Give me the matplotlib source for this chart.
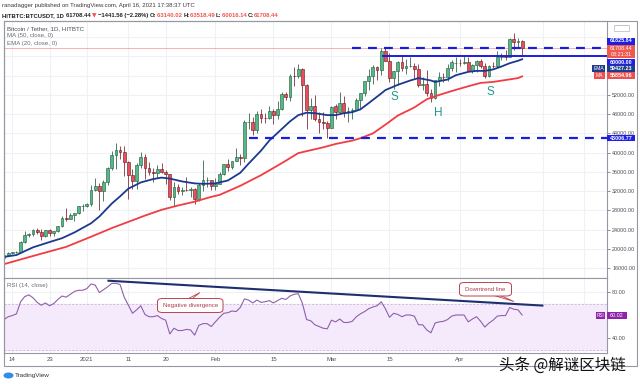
import matplotlib
matplotlib.use("Agg")
import matplotlib.pyplot as plt
import numpy as np
import pandas as pd
from matplotlib.patches import Rectangle, FancyBboxPatch, Polygon, Ellipse

# ---------------- data ----------------
dates = pd.date_range("2020-12-12", "2021-04-16", freq="D")
opens = [18036, 18808, 19175, 19273, 19427, 21380, 22843, 23107, 23822, 23455,
         22719, 23810, 23232, 23729, 24712, 26493, 26281, 27079, 27385, 28875,
         28923, 29331, 32176, 33000, 31989, 33950, 36769, 39432, 40586, 40088,
         38150, 35410, 34049, 37372, 39141, 36733, 35995, 35824, 36622, 35901,
         35468, 30851, 32950, 32078, 32259, 32251, 32464, 30362, 33368, 34246,
         34262, 33092, 33517, 35472, 37620, 36936, 38290, 39181, 38795, 46374,
         46420, 44807, 47969, 47298, 47156, 48580, 47911, 49134, 52119, 51553,
         55906, 55841, 57412, 54088, 48891, 49676, 47056, 46277, 46104, 45134,
         49595, 48436, 50349, 48374, 48746, 48882, 50959, 52375, 54874, 55851,
         57773, 57221, 61188, 58977, 55605, 56900, 58912, 57641, 58030, 58100,
         57351, 54083, 54342, 52303, 51293, 55025, 55817, 55782, 57635, 58730,
         58741, 58720, 58950, 57051, 58202, 59129, 57990, 56000, 58088, 58032,
         59860, 59999, 59860, 63575, 62959, 63140.02]
highs = [18948, 19411, 19350, 19570, 21560, 23800, 23285, 24171, 24295, 24102,
         23837, 24100, 23789, 24789, 26867, 28422, 27500, 27400, 28996, 29300,
         29600, 33300, 34778, 33600, 34360, 36939, 40365, 41950, 41380, 41350,
         38264, 36628, 37850, 40100, 39747, 37950, 36852, 37469, 37850, 36415,
         35600, 33826, 33456, 32944, 34875, 32921, 32557, 33783, 38531, 34933,
         34342, 34717, 35984, 37662, 38708, 38310, 40955, 39700, 46794, 48200,
         47310, 48678, 48985, 48150, 49707, 49010, 50638, 52619, 52530, 56368,
         57767, 58352, 57508, 54183, 51374, 52041, 48424, 48394, 46638, 49790,
         50200, 52640, 51773, 49448, 49200, 51450, 52402, 54895, 57387, 58150,
         58058, 61844, 61683, 60633, 56938, 58978, 60100, 59468, 59880, 58589,
         58430, 55830, 57200, 53230, 55073, 56700, 56559, 58400, 59368, 59800,
         59462, 60200, 59791, 58492, 59257, 59477, 58650, 58153, 58869, 61220,
         60790, 61300, 63777, 64854, 63800, 63518.49]
lows = [18020, 18711, 19000, 19050, 19278, 21230, 22350, 22750, 23060, 21815,
        22353, 22600, 22703, 23433, 24500, 25700, 26101, 25880, 27320, 27850,
        28624, 28946, 31962, 28130, 29900, 33288, 36300, 36500, 38720, 35111,
        30420, 32531, 32380, 36701, 34538, 35357, 33850, 34800, 35844, 33400,
        30071, 28850, 31390, 31106, 32053, 30837, 29241, 29842, 31915, 32825,
        32171, 32296, 33418, 35362, 36161, 36570, 38215, 37351, 37988, 45000,
        43727, 43994, 46125, 46202, 47014, 46000, 47003, 48947, 50901, 50710,
        53863, 55477, 47622, 44892, 47003, 46674, 44106, 45000, 43000, 45115,
        47047, 48100, 47500, 46300, 47070, 48882, 49274, 51845, 53005, 54272,
        55013, 56078, 58963, 54600, 53271, 54124, 57023, 56270, 57820, 55450,
        53650, 53000, 51700, 50427, 51214, 53950, 54691, 54900, 57071, 56769,
        57935, 58428, 56880, 56500, 56800, 57600, 55473, 55700, 57672, 57870,
        59289, 59350, 59800, 61301, 62020, 60016.14]
closes = [18808, 19175, 19273, 19427, 21380, 22843, 23107, 23822, 23455, 22719,
          23810, 23232, 23729, 24712, 26493, 26281, 27079, 27385, 28875, 28923,
          29331, 32178, 33000, 31988, 33950, 36769, 39432, 40582, 40088, 38150,
          35404, 34051, 37371, 39144, 36742, 35994, 35828, 36631, 35891, 35468,
          30850, 32945, 32078, 32259, 32254, 32467, 30366, 33364, 34252, 34262,
          33092, 33526, 35466, 37618, 36936, 38290, 39186, 38795, 46374, 46420,
          44807, 47969, 47287, 47153, 48577, 47911, 49133, 52119, 51553, 55906,
          55842, 57408, 54088, 48891, 49676, 47073, 46277, 46103, 45135, 49587,
          48440, 50349, 48374, 48751, 48882, 50971, 52375, 54884, 55851, 57773,
          57221, 61188, 58968, 55605, 56900, 58912, 57649, 58030, 58102, 57351,
          54083, 54340, 52303, 51293, 55025, 55817, 55777, 57635, 58746, 58741,
          58720, 58950, 57051, 58202, 59129, 57991, 56000, 58088, 58031, 59860,
          60000, 59860, 63575, 62959, 63159, 61708.44]

# EMA(20) and MA(50) (day index from 12 Dec 2020)
ema_day = [0, 3, 7, 11, 14, 17, 21, 23, 26, 28, 30, 33, 36, 38, 40, 43, 46, 48,
           51, 54, 57, 59, 62, 64, 67, 69, 71, 73, 75, 78, 80, 82, 84, 86, 88,
           91, 92, 95, 98, 100, 103, 104, 107, 109, 112, 114, 116, 118, 120,
           122, 124, 125]
ema_val = [18300, 18700, 20300, 21400, 22200, 23400, 25300, 26700, 29400, 30900,
           32500, 33800, 34500, 34800, 34600, 34000, 33600, 33500, 33600, 34200,
           35800, 37700, 40400, 42500, 44900, 46500, 47800, 48300, 48200, 47800,
           47800, 48200, 48400, 49000, 50300, 52300, 53000, 54100, 55000, 55500,
           55000, 54700, 55200, 56100, 56800, 57000, 57000, 57300, 57900, 58600,
           59100, 59427.23]
ma_day = [0, 7, 15, 21, 26, 30, 34, 38, 42, 46, 50, 52, 57, 62, 67, 71, 74, 77,
          80, 84, 86, 89, 92, 95, 99, 102, 105, 108, 112, 115, 118, 121, 124, 125]
ma_val = [16800, 18500, 20400, 22500, 24300, 25600, 26900, 28100, 29000, 29800,
          30800, 31200, 33100, 35300, 37800, 39900, 40500, 41100, 41800, 42500,
          43000, 44000, 45800, 47700, 49400, 51100, 52000, 52800, 53800, 54500,
          54700, 55100, 55500, 55854.96]

rsi = [56, 58.5, 59.5, 61, 71.5, 76, 77.5, 75, 71, 68.5,
       70.5, 68, 70, 73.5, 76.5, 75.5, 78, 80.5, 81.5, 81.5,
       83, 87, 86, 79.5, 82, 84.5, 87.5, 87.5, 86.5, 75.5,
       68.5, 61.5, 64.5, 68, 60.5, 58.5, 58.5, 59.5, 57, 55.5,
       43.5, 48.5, 46.5, 46.5, 47.5, 47, 42.5, 51, 52.5, 52.5,
       50, 54, 58, 61.5, 62, 63.5, 63, 66.5, 74, 73,
       70.5, 73, 71, 71.5, 72.5, 70.5, 72.5, 74.5, 73.5, 76.5,
       78, 78.5, 70, 56, 55, 51.5, 50, 48.5, 48, 55.5,
       54, 56.5, 53.5, 53.5, 54.5, 58.5, 61, 63, 65.5, 67,
       68, 71.5, 65.5, 58, 61.5, 60.5, 58.5, 60, 60, 59,
       51.5, 51.5, 47, 44.5, 53, 54, 54.5, 56, 59, 60,
       60, 60, 54, 56.5, 58.5, 54.5, 49.5, 53, 55.5, 59,
       59.5, 59.5, 66.5, 65, 64.5, 60.02]

# horizontal levels drawn on the chart
level_price = [61825.84, 43006.77, 60000.00]
level_start = [84, 59, 91.5]
level_style = ["dashed", "dashed", "solid"]
last_price = 61708.44
ema_last, ma_last, rsi_last = 59427.23, 55854.96, 60.02

# pattern letters: (label, day, price)
pattern_text = ["S", "H", "S"]
pattern_day = [94.3, 104.8, 117.4]
pattern_price = [51600, 48200, 52700]

# RSI trend line (day, rsi)
trend_day = [25.2, 129.9]
trend_rsi = [89.8, 68.2]

tick_day = [2, 11, 20, 30, 39, 51, 65, 79, 93, 110, 130, 140]
tick_lab = ["14", "23", "2021", "11", "20", "Feb", "15", "Mar", "15", "Apr", "", ""]
price_grid = [16000, 20000, 24000, 28000, 32000, 36000, 40000, 44000, 48000,
              52000, 56000, 60000, 64000]
price_ticks = [16000, 20000, 24000, 28000, 32000, 36000, 40000, 44000, 48000, 52000]

# ---------------- figure ----------------
W, H = 640, 384
fig = plt.figure(figsize=(6.4, 3.84), dpi=100)
FONT = "Liberation Sans"


def fx(px):
    return px / W


def fy(py):
    return 1 - py / H


LX, RX = 3.5, 607
TOP, SEP, BOT = 21, 278, 353
ax = fig.add_axes([fx(LX), fy(SEP), fx(RX) - fx(LX), (SEP - TOP) / H])
axr = fig.add_axes([fx(LX), fy(BOT), fx(RX) - fx(LX), (BOT - SEP) / H], sharex=ax)

x = np.arange(len(dates))
xmin, xmax = (LX - 4) / 4.145, (RX - 4) / 4.145
ax.set_xlim(xmin, xmax)
ax.set_ylim(16000 - (SEP - 268) * 208, 16000 + (268 - TOP) * 208)
axr.set_ylim(40 - (BOT - 338) / 1.15, 80 + (292 - SEP) / 1.15)

grid_c = "#f0f1f4"
for a in (ax, axr):
    a.set_facecolor("white")
    for s in a.spines.values():
        s.set_color("#9598a1")
        s.set_linewidth(0.8)
    for d in tick_day:
        a.axvline(d, color=grid_c, lw=0.8, zorder=0)
for p in price_grid:
    ax.axhline(p, color=grid_c, lw=0.8, zorder=0)
for r in (40, 80):
    axr.axhline(r, color=grid_c, lw=0.8, zorder=0)

# candles
o = np.array(opens); h = np.array(highs); l = np.array(lows); c = np.array(closes)
up = c >= o
wick_c = np.where(up, "#336854", "#7f323f")
ax.vlines(x, l, h, colors=wick_c, lw=0.6, zorder=2)
ax.bar(x[up], (c - o)[up], bottom=o[up], width=0.68, color="#53b987",
       edgecolor="#225437", linewidth=0.4, zorder=3)
ax.bar(x[~up], (o - c)[~up], bottom=c[~up], width=0.68, color="#eb4d5c",
       edgecolor="#5b1a13", linewidth=0.4, zorder=3)

# moving averages
ax.plot(ma_day, ma_val, color="#f23c44", lw=1.3, zorder=4)
ax.plot(ema_day, ema_val, color="#1b3a8f", lw=1.3, zorder=4)

# current price line
ax.axhline(last_price, color="#f5a3a6", lw=0.6, zorder=1)

# levels
for lp, ls, st in zip(level_price, level_start, level_style):
    if st == "dashed":
        ax.plot([ls, xmax], [lp, lp], color="#1c1ce0", lw=1.6,
                dashes=(4, 3.2), zorder=5)
    else:
        ax.plot([ls, xmax], [lp, lp], color="#1c1ce0", lw=1.4, zorder=5)

for t, d, p in zip(pattern_text, pattern_day, pattern_price):
    ax.text(d, p, t, color="#1f9a8a", fontsize=8.5, ha="center", va="center",
            family=FONT, zorder=6)

# y ticks on right
ax.yaxis.tick_right()
ax.set_yticks(price_ticks)
ax.set_yticklabels([f"{p:.2f}" for p in price_ticks])
ax.tick_params(axis="y", length=2.2, width=0.6, color="#787b86", pad=1.5,
               labelsize=3.9, labelcolor="#4a4d57")
ax.tick_params(axis="x", bottom=False, labelbottom=False)
for lbl in ax.get_yticklabels():
    lbl.set_family(FONT)

# RSI pane
axr.axhspan(30, 70, color="#f5eafc", zorder=0)
axr.axhline(70, color="#c9b7d6", lw=0.6, dashes=(2.5, 2), zorder=1)
axr.axhline(30, color="#c9b7d6", lw=0.6, dashes=(2.5, 2), zorder=1)
axr.plot(x, rsi, color="#8f5fae", lw=0.8, zorder=3)
axr.plot(trend_day, trend_rsi, color="#1d2f6f", lw=1.5, zorder=4)
axr.yaxis.tick_right()
axr.set_yticks([40, 80])
axr.set_yticklabels(["40.00", "80.00"])
axr.tick_params(axis="y", length=2.2, width=0.6, color="#787b86", pad=1.5,
                labelsize=3.9, labelcolor="#4a4d57")
axr.set_xticks(tick_day)
axr.set_xticklabels(tick_lab)
axr.tick_params(axis="x", length=0, pad=3.2, labelsize=4.3, labelcolor="#4a4d57")
for lbl in axr.get_yticklabels() + axr.get_xticklabels():
    lbl.set_family(FONT)

# ---------------- overlay text / boxes (figure pixels) ----------------
def ftext(px, py, s, **kw):
    kw.setdefault("family", FONT)
    fig.text(fx(px), fy(py), s, **kw)


def pbox(x0, y0, x1, y1, fc, ec=None, lw=0):
    fig.patches.append(Rectangle((fx(x0), fy(y1)), fx(x1) - fx(x0), (y1 - y0) / H,
                                 transform=fig.transFigure, facecolor=fc,
                                 edgecolor=ec if ec else fc, lw=lw, zorder=10))


# outer frame right / bottom
fig.patches.append(Rectangle((fx(LX), fy(366)), fx(637) - fx(LX), (366 - TOP) / H,
                             transform=fig.transFigure, fill=False,
                             edgecolor="#9598a1", lw=0.8, zorder=0))

# header
ftext(2, 5, "ranadagger published on TradingView.com, April 16, 2021 17:38:37 UTC",
      fontsize=4.3, color="#3a3a3a", va="center")
hdr = [("HITBTC:BTCUSDT, 1D ", "#222222"), ("61708.44 ", "#222222"), ("▼ ", "#ef5350"),
       ("−1441.56 (−2.28%) ", "#222222"), ("O:", "#222222"), ("63140.02 ", "#ef5350"),
       ("H:", "#222222"), ("63518.49 ", "#ef5350"), ("L:", "#222222"),
       ("60016.14 ", "#ef5350"), ("C:", "#222222"), ("61708.44", "#ef5350")]
renderer = fig.canvas.get_renderer()
cx = 2
for s, col in hdr:
    t = fig.text(fx(cx), fy(15.5), s, fontsize=4.25, color=col, va="center",
                 family="DejaVu Sans" if s.startswith("▼") else FONT, weight="bold")
    cx += t.get_window_extent(renderer).width

# legend inside chart
ftext(7, 28.5, "Bitcoin / Tether, 1D, HITBTC", fontsize=4.4, color="#4a4d57", va="center")
ftext(7, 36, "MA (50, close, 0)", fontsize=4.4, color="#6a6d78", va="center")
ftext(7, 43.5, "EMA (20, close, 0)", fontsize=4.4, color="#6a6d78", va="center")
ftext(7, 285, "RSI (14, close)", fontsize=4.4, color="#6a6d78", va="center")

# right-axis price labels
pbox(614, 24.5, 629, 30.5, "white", "#b2b5be", 0.5)
ftext(621.5, 27.5, "USDT", fontsize=3.3, color="#6a6d78", ha="center", va="center")
blue = "#1e1ee6"
boxes = [
    (37.5, 44.5, blue, f"{level_price[0]:.2f}"),
    (59, 65, blue, f"{level_price[2]:.2f}"),
    (135, 141.5, blue, f"{level_price[1]:.2f}"),
    (65.5, 72, "#1f3d8c", f"{ema_last:.2f}"),
    (72.5, 79, "#ef4f4f", f"{ma_last:.2f}"),
]
for y0, y1, col, s in boxes:
    pbox(607, y0, 635, y1, col)
    ftext(621, (y0 + y1) / 2, s, fontsize=3.9, color="white", ha="center",
          va="center", weight="bold", zorder=11)
pbox(607, 45, 635, 58, "#ef5a4f")
ftext(621, 48.5, f"{last_price:.2f}", fontsize=3.9, color="white", ha="center",
      va="center", zorder=11)
ftext(621, 54.5, "08:21:31", fontsize=3.9, color="white", ha="center",
      va="center", zorder=11)
pbox(592, 65.5, 605, 72, "#1f3d8c")
ftext(598.5, 68.75, "EMA", fontsize=3.6, color="white", ha="center", va="center", zorder=11)
pbox(594, 72.5, 605, 79, "#ef4f4f")
ftext(599.5, 75.75, "MA", fontsize=3.6, color="white", ha="center", va="center", zorder=11)
pbox(596, 312, 605, 318.5, "#8e24aa")
ftext(600.5, 315.25, "RSI", fontsize=3.4, color="white", ha="center", va="center", zorder=11)
pbox(607, 312, 627, 318.5, "#8e24aa")
ftext(617, 315.25, f"{rsi_last:.2f}", fontsize=3.9, color="white", ha="center",
      va="center", zorder=11)

# callouts
def callout(x0, y0, x1, y1, tail, text):
    fig.patches.append(FancyBboxPatch((fx(x0), fy(y1)), fx(x1) - fx(x0), (y1 - y0) / H,
                                      boxstyle="round,pad=0,rounding_size=0.008",
                                      transform=fig.transFigure, facecolor="white",
                                      edgecolor="#b9434f", lw=0.7, zorder=12))
    fig.patches.append(Polygon([(fx(px), fy(py)) for px, py in tail], closed=True,
                               transform=fig.transFigure, facecolor="white",
                               edgecolor="#b9434f", lw=0.6, zorder=11))
    ftext((x0 + x1) / 2, (y0 + y1) / 2, text, fontsize=4.3, color="#b0384a",
          ha="center", va="center", zorder=13)


callout(157.5, 298.5, 223, 312.5, [(188, 298.8), (200, 292.5), (192, 298.8)],
        "Negative divergence")
callout(459.5, 282.5, 511.5, 296, [(495, 295.8), (514, 301.5), (501, 295.8)],
        "Downtrend line")

# footer
fig.patches.append(Ellipse((fx(8.5), fy(375.5)), 10 / W, 6 / H, transform=fig.transFigure,
                           facecolor="#2f8ee8", edgecolor="none", zorder=10))
ftext(15, 375.5, "TradingView", fontsize=4.6, color="#333333", va="center")
fig.text(fx(562.5), fy(365), "头条 @解谜区块链", fontsize=11.2, color="#111111",
         ha="center", va="center", family=["Noto Sans CJK SC", "DejaVu Sans"], zorder=20)

fig.savefig("out.png", dpi=100, facecolor="white")
